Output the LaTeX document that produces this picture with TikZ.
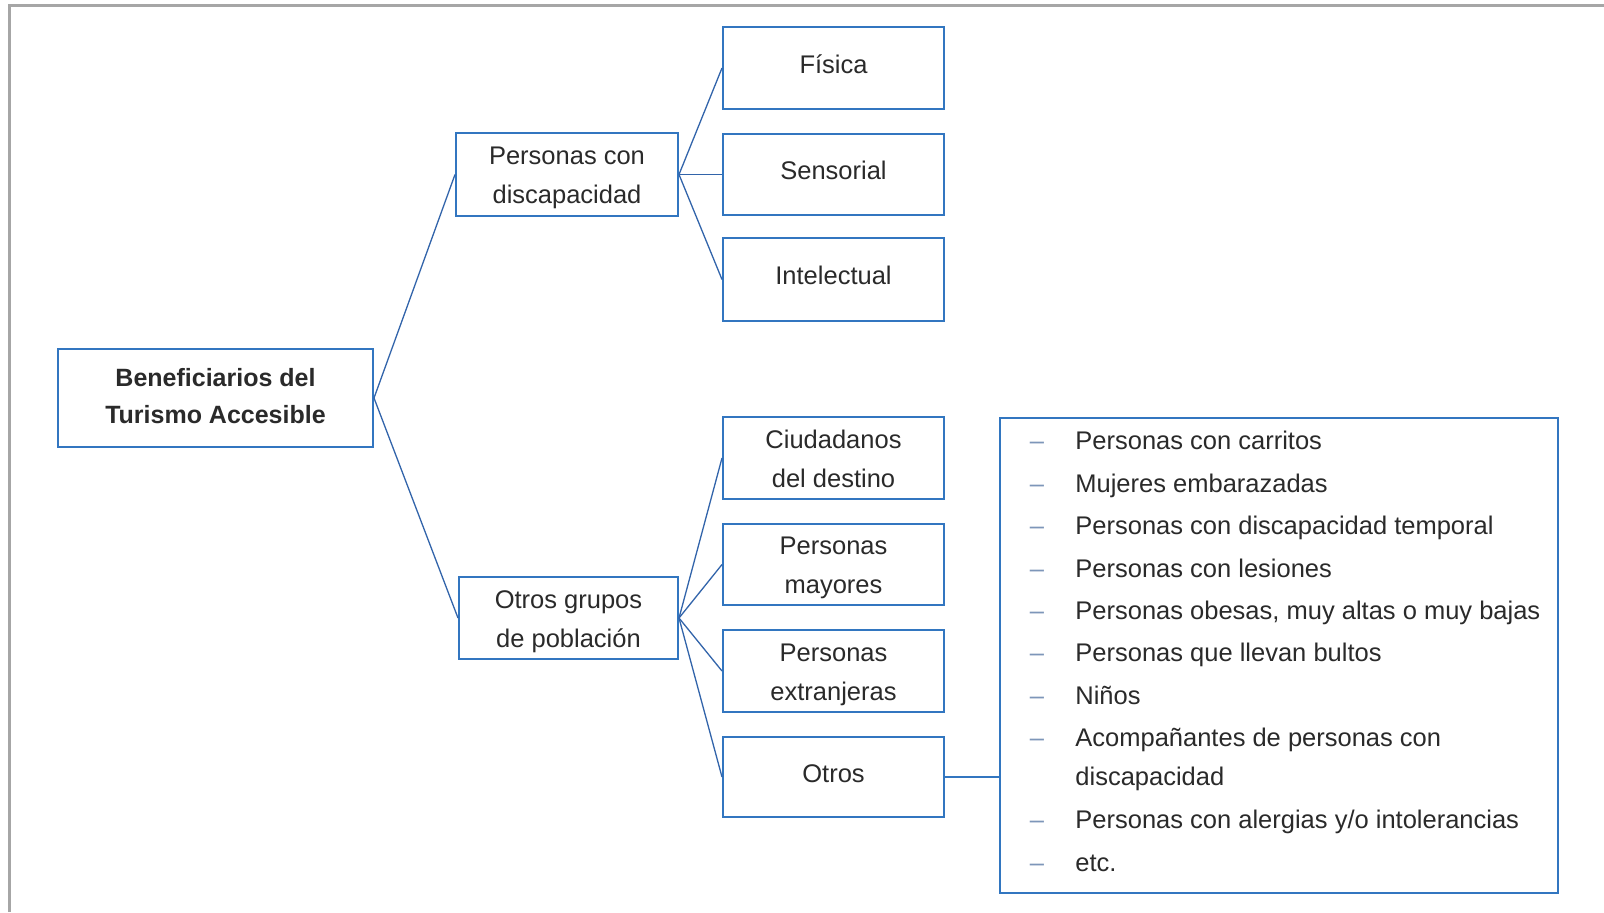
\documentclass[tikz,border=0pt]{standalone}
\usepackage{fontspec}
\setmainfont{Liberation Sans}
\definecolor{boxblue}{RGB}{50,118,192}
\definecolor{linkblue}{RGB}{50,100,170}
\definecolor{txt}{RGB}{42,42,42}
\definecolor{dashc}{RGB}{125,150,185}
\definecolor{framegray}{RGB}{166,166,166}
\begin{document}
\begin{tikzpicture}[x=0.5pt,y=-0.5pt,
  box/.style={draw=boxblue, line width=1pt, fill=white, text=txt, align=center, inner sep=0pt,
    font=\fontsize{12.75}{19.5}\selectfont},
  oneline/.style={box, text height=9.1pt, text depth=4pt},
  twoline/.style={box, text height=29pt, text depth=0pt},
  rootbox/.style={box, font=\fontsize{12.5}{18.5}\selectfont\bfseries, text height=25.6pt, text depth=0pt},
  link/.style={draw=linkblue, line width=0.65pt},
  item/.style={anchor=base west, inner sep=0pt, text=txt, font=\fontsize{12.75}{19.5}\selectfont},
  dashmark/.style={anchor=base, inner sep=0pt, text=dashc, font=\fontsize{12.75}{19.5}\selectfont},
  framestyle/.style={draw=framegray, line width=1.5pt}]
\useasboundingbox (0,0) rectangle (1604,912);
\fill[white] (0,0) rectangle (1604,912);
% outer frame
\draw[framestyle] (9.5,912) -- (9.5,5) -- (1604,5);

% nodes
\node[rootbox, minimum width=157.5pt, minimum height=49pt] (root) at (215.5,398) {Beneficiarios del\\Turismo Accesible};
\node[twoline, minimum width=111pt, minimum height=41.5pt] (pcd) at (567,174.5) {Personas con\\discapacidad};
\node[twoline, minimum width=109.5pt, minimum height=41pt] (ogp) at (568.5,618) {Otros grupos\\de población};

\node[oneline, minimum width=110.5pt, minimum height=41pt] (fis) at (833.5,68) {Física};
\node[oneline, minimum width=110.5pt, minimum height=40.5pt] (sen) at (833.5,174.5) {Sensorial};
\node[oneline, minimum width=110.5pt, minimum height=41.5pt] (int) at (833.5,279.5) {Intelectual};

\node[twoline, minimum width=110.5pt, minimum height=41pt] (ciu) at (833.5,458) {Ciudadanos\\del destino};
\node[twoline, minimum width=110.5pt, minimum height=40.5pt] (may) at (833.5,564.5) {Personas\\mayores};
\node[twoline, minimum width=110.5pt, minimum height=41pt] (ext) at (833.5,671) {Personas\\extranjeras};
\node[oneline, minimum width=110.5pt, minimum height=40pt] (otr) at (833.5,777) {Otros};

\node[box, minimum width=279pt, minimum height=237.5pt] (list) at (1279,655.5) {};

% list items
\foreach \i/\y/\t in {1/449.8/{Personas con carritos},
                      2/492.2/{Mujeres embarazadas},
                      3/534.6/{Personas con discapacidad temporal},
                      4/577/{Personas con lesiones},
                      5/619.4/{Personas obesas, muy altas o muy bajas},
                      6/661.8/{Personas que llevan bultos},
                      7/704.2/{Niños},
                      8/746.8/{Acompañantes de personas con},
                      9/828.8/{Personas con alergias y/o intolerancias},
                      10/871/{etc.}}{
  \node[dashmark] (d\i) at (1037,\y) {–};
  \node[item] (l\i) at (1075,\y) {\t};
}
\node[item] (l8b) at (1075,785.8) {discapacidad};

% connectors
\draw[link] (root.east) -- (pcd.west);
\draw[link] (root.east) -- (ogp.west);
\draw[link] (pcd.east) -- (fis.west);
\draw[link] (pcd.east) -- (sen.west);
\draw[link] (pcd.east) -- (int.west);
\draw[link] (ogp.east) -- (ciu.west);
\draw[link] (ogp.east) -- (may.west);
\draw[link] (ogp.east) -- (ext.west);
\draw[link] (ogp.east) -- (otr.west);
\draw[link, draw=boxblue, line width=0.8pt] (otr.east) -- (otr.east -| list.west);
\end{tikzpicture}
\end{document}
